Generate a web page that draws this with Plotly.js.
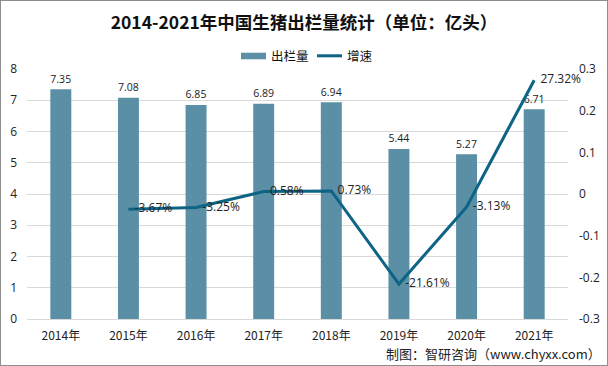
<!DOCTYPE html>
<html><head><meta charset="utf-8">
<script src="https://cdn.plot.ly/plotly-3.0.1.min.js"></script>
<style>
body{margin:0;padding:0;background:#fff;}
#wrap{position:relative;width:608px;height:366px;}
#chart{width:608px;height:366px;}
#border{position:absolute;left:0;top:0;width:606px;height:364px;border:1px solid #8c8c8c;pointer-events:none;}
</style>
</head><body>
<div id="wrap"><div id="chart"></div><div id="border"></div></div>
<script>
const years = ["2014年","2015年","2016年","2017年","2018年","2019年","2020年","2021年"];
const output = [7.35, 7.08, 6.85, 6.89, 6.94, 5.44, 5.27, 6.71];
const growthYears = ["2015年","2016年","2017年","2018年","2019年","2020年","2021年"];
const growth = [-0.0367, -0.0325, 0.0058, 0.0073, -0.2161, -0.0313, 0.2732];
const growthLabels = ["-3.67%","-3.25%","0.58%","0.73%","-21.61%","-3.13%","27.32%"];
const leftTicks = [0,1,2,3,4,5,6,7,8];
const rightTicks = [-0.3,-0.2,-0.1,0,0.1,0.2,0.3];

const font = "'Open Sans','Noto Sans CJK SC',sans-serif";
const cjk = "'Noto Sans CJK SC',sans-serif";
const textFont = {family: font, size: 12, color: '#222'};
const pad = '\u00a0\u00a0';

// plot area in pixels: x 27..568, y 69..319
const px = x => (x - 27) / 541;
const py = y => (319 - y) / 250;

const traces = [
  {type:'bar', name:'出栏量', x:years, y:output, marker:{color:'#5B8FA6'},
   text: output.map(v=>v.toFixed(2)), textposition:'outside', textfont:textFont,
   cliponaxis:false, width:0.31, showlegend:false},
  {type:'scatter', mode:'lines+text', name:'增速', x:growthYears, y:growth, yaxis:'y2',
   line:{color:'#0E6484', width:3}, text:growthLabels.map(t=>pad+t),
   textposition:'middle right', textfont:textFont, cliponaxis:false, showlegend:false}
];

const layout = {
  width:608, height:366,
  margin:{l:27, r:40, t:69, b:47},
  paper_bgcolor:'#fff', plot_bgcolor:'#fff',
  font:{family:font, size:12, color:'#222'},
  title:{text:'<b>2014-2021年中国生猪出栏量统计（单位：亿头）</b>', x:0.5, xanchor:'center',
    y:1-23/366, yref:'container', yanchor:'middle',
    font:{family:cjk, size:17.5, color:'#111'}},
  showlegend:false,
  bargap:0.69,
  xaxis:{type:'category', showgrid:false, zeroline:false, showline:false, ticks:'',
    ticklabelstandoff:8,
    tickfont:{family:cjk, size:12, color:'#222'}},
  yaxis:{range:[0,8], tickvals:leftTicks, showgrid:true, gridcolor:'#D9D9D9', gridwidth:1,
    zeroline:true, zerolinecolor:'#D9D9D9', showline:false, ticks:'', ticklabelstandoff:9,
    tickfont:{size:12, color:'#222'}},
  yaxis2:{range:[-0.3,0.3], tickvals:rightTicks, ticktext:rightTicks.map(v=>String(v)),
    overlaying:'y', side:'right', showgrid:false, zeroline:false, showline:false, ticks:'',
    ticklabelstandoff:10, tickfont:{size:12, color:'#222'}},
  shapes:[
    {type:'rect', xref:'paper', yref:'paper', x0:px(241), x1:px(266), y0:py(59.3), y1:py(52.7),
     fillcolor:'#5B8FA6', line:{width:0}},
    {type:'line', xref:'paper', yref:'paper', x0:px(317), x1:px(342), y0:py(55.8), y1:py(55.8),
     line:{color:'#0E6484', width:3}}
  ],
  annotations:[
    {text:'出栏量', xref:'paper', yref:'paper', x:px(269), xanchor:'left', y:py(55.5), yanchor:'middle',
     showarrow:false, font:{family:cjk, size:12.5, color:'#111'}},
    {text:'增速', xref:'paper', yref:'paper', x:px(345), xanchor:'left', y:py(55.5), yanchor:'middle',
     showarrow:false, font:{family:cjk, size:12.5, color:'#111'}},
    {text:'制图：智研咨询（www.chyxx.com）', xref:'paper', yref:'paper',
    x:px(603), xanchor:'right', y:py(353), yanchor:'middle', showarrow:false,
    font:{family:cjk, size:13, color:'#222'}}]
};

Plotly.newPlot('chart', traces, layout, {displayModeBar:false, staticPlot:true});
</script>
</body></html>
